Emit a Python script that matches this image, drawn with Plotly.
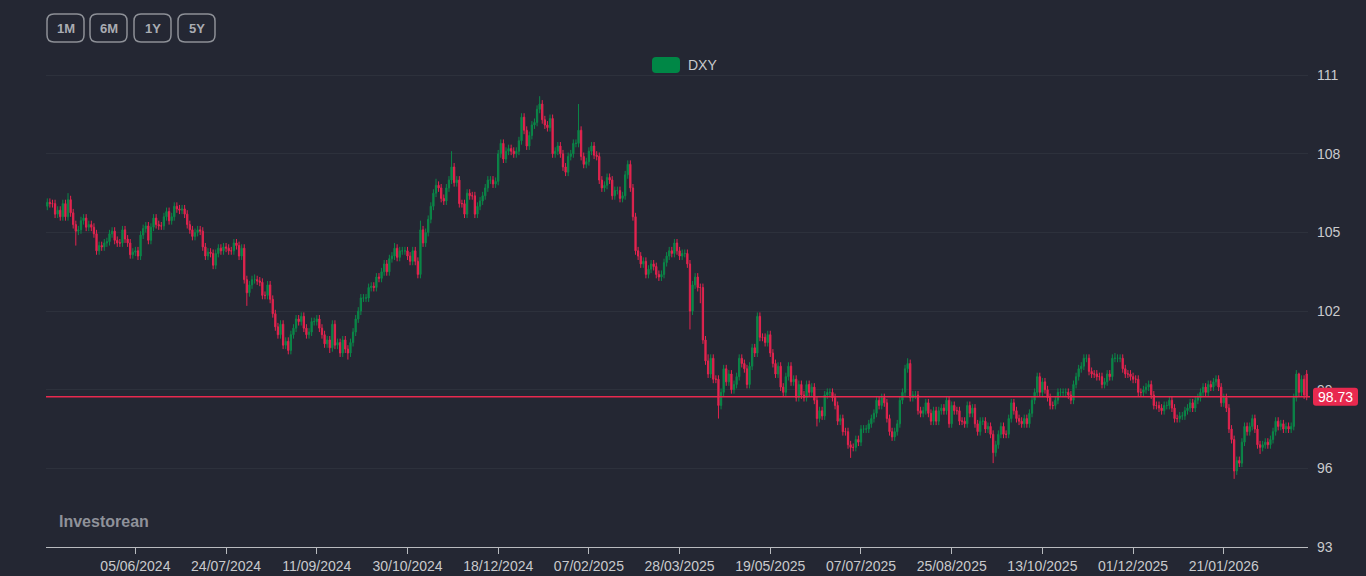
import pandas as pd
import plotly.graph_objects as go

# ---------------- data ----------------
open_ = [
 106.00,106.15,106.10,106.10,105.70,105.85,105.60,106.10,105.60,106.25,
 105.75,105.30,105.05,105.10,105.45,105.55,105.20,105.30,105.20,104.95,
 104.30,104.50,104.45,104.60,104.65,104.95,105.05,104.70,104.60,104.60,
 105.10,104.75,104.60,104.15,104.25,104.30,104.10,104.90,105.15,105.25,
 104.70,105.20,105.55,105.30,105.25,105.25,105.60,105.80,105.45,105.60,
 106.00,105.90,105.85,105.90,105.70,105.30,105.10,104.85,105.00,105.10,
 105.05,104.45,104.10,104.25,104.20,103.75,104.20,104.40,104.30,104.45,
 104.40,104.30,104.30,104.60,104.50,104.10,104.40,103.20,102.70,103.00,
 103.20,103.20,103.15,103.10,102.60,102.60,103.00,102.45,101.90,101.40,
 101.10,101.50,100.70,100.85,100.50,101.10,101.35,101.70,101.60,101.80,
 101.35,101.10,101.20,101.60,101.60,101.70,101.35,101.10,100.75,100.90,
 100.60,101.50,100.70,100.80,100.40,100.90,100.55,100.40,100.80,101.20,
 101.70,102.00,102.50,102.50,102.50,102.90,102.95,102.90,103.30,103.25,
 103.50,103.80,103.50,104.00,104.10,104.40,104.05,104.30,104.30,104.30,
 104.10,103.90,104.30,103.90,103.40,105.10,104.60,105.00,105.50,106.00,
 106.50,106.80,106.70,106.30,106.20,106.70,107.00,107.50,106.90,107.00,
 106.10,106.10,105.70,106.50,106.40,106.40,105.70,106.00,106.20,106.40,
 106.70,107.00,107.00,106.85,106.95,108.00,108.40,107.80,108.10,108.20,
 108.10,108.00,108.10,108.50,109.40,108.90,108.30,108.70,109.10,109.20,
 109.70,109.90,109.30,109.10,109.00,109.35,108.00,108.10,108.30,108.00,
 107.50,107.30,107.90,108.00,108.40,108.40,108.90,107.90,107.60,107.70,
 108.10,108.30,107.95,107.90,107.00,106.70,106.80,107.10,107.00,106.40,
 106.60,106.60,106.30,106.40,107.20,107.60,106.70,105.60,104.30,104.10,
 103.80,103.90,103.40,103.60,103.80,103.70,103.40,103.30,103.40,103.85,
 104.10,104.30,104.20,104.60,104.30,104.10,104.20,104.20,103.80,102.00,
 103.00,103.30,102.90,102.90,100.90,100.10,99.60,100.20,99.40,99.40,
 98.40,98.90,99.80,99.30,99.60,99.00,99.20,99.50,100.20,100.00,
 99.80,99.20,99.90,100.60,100.40,101.80,101.00,101.00,100.80,101.10,
 100.40,100.00,99.60,99.90,99.10,98.90,99.50,99.90,99.30,99.40,
 98.70,99.20,98.80,98.70,99.20,98.90,99.10,98.60,97.90,98.20,
 98.00,98.80,98.90,98.90,98.70,98.40,97.80,97.90,97.40,97.40,
 96.90,96.80,96.80,97.10,97.00,97.50,97.50,97.50,97.70,97.90,
 98.10,98.60,98.40,98.70,98.50,97.90,97.40,97.20,97.40,97.70,
 98.60,98.90,99.80,100.00,98.70,98.80,98.80,98.20,98.10,98.20,
 98.50,98.10,97.80,98.20,97.80,98.20,98.30,98.20,98.60,97.70,
 98.40,98.20,98.20,97.80,97.80,97.70,98.40,98.10,98.30,97.70,
 97.40,97.80,97.80,97.50,97.60,97.30,96.60,96.90,97.30,97.60,
 97.30,97.30,97.90,98.50,98.20,97.90,97.80,97.70,97.90,97.70,
 98.10,98.60,98.90,99.50,98.90,99.30,99.00,98.70,98.40,98.40,
 98.60,98.90,98.90,98.90,98.90,98.80,98.60,99.20,99.50,99.80,
 99.90,100.20,100.20,99.70,99.60,99.60,99.50,99.50,99.20,99.30,
 99.60,99.50,100.20,100.20,100.20,100.20,99.80,99.60,99.60,99.50,
 99.40,99.40,98.90,98.90,99.00,99.10,99.20,98.80,98.40,98.40,
 98.30,98.20,98.40,98.40,98.60,98.30,97.90,97.90,98.00,98.00,
 98.20,98.30,98.50,98.30,98.60,98.70,98.90,99.10,98.90,99.20,
 99.10,99.30,99.40,99.10,98.50,98.70,98.30,97.50,97.10,95.90,
 96.30,96.20,97.00,97.60,97.40,97.60,97.90,97.50,96.90,96.80,
 96.90,97.00,96.90,97.10,97.40,97.80,97.60,97.70,97.50,97.60,
 97.50,97.60,98.70,99.60,98.90,99.40,99.60]

close = [
 106.15,106.10,106.10,105.70,105.85,105.60,106.10,105.60,106.25,105.75,
 105.30,105.05,105.10,105.45,105.55,105.20,105.30,105.20,104.95,104.30,
 104.50,104.45,104.60,104.65,104.95,105.05,104.70,104.60,104.60,105.10,
 104.75,104.60,104.15,104.25,104.30,104.10,104.90,105.15,105.25,104.70,
 105.20,105.55,105.30,105.25,105.25,105.60,105.80,105.45,105.60,106.00,
 105.90,105.85,105.90,105.70,105.30,105.10,104.85,105.00,105.10,105.05,
 104.45,104.10,104.25,104.20,103.75,104.20,104.40,104.30,104.45,104.40,
 104.30,104.30,104.60,104.50,104.10,104.40,103.20,102.70,103.00,103.20,
 103.20,103.15,103.10,102.60,102.60,103.00,102.45,101.90,101.40,101.10,
 101.50,100.70,100.85,100.50,101.10,101.35,101.70,101.60,101.80,101.35,
 101.10,101.20,101.60,101.60,101.70,101.35,101.10,100.75,100.90,100.60,
 101.50,100.70,100.80,100.40,100.90,100.55,100.40,100.80,101.20,101.70,
 102.00,102.50,102.50,102.50,102.90,102.95,102.90,103.30,103.25,103.50,
 103.80,103.50,104.00,104.10,104.40,104.05,104.30,104.30,104.30,104.10,
 103.90,104.30,103.90,103.40,105.10,104.60,105.00,105.50,106.00,106.50,
 106.80,106.70,106.30,106.20,106.70,107.00,107.50,106.90,107.00,106.10,
 106.10,105.70,106.50,106.40,106.40,105.70,106.00,106.20,106.40,106.70,
 107.00,107.00,106.85,106.95,108.00,108.40,107.80,108.10,108.20,108.10,
 108.00,108.10,108.50,109.40,108.90,108.30,108.70,109.10,109.20,109.70,
 109.90,109.30,109.10,109.00,109.35,108.00,108.10,108.30,108.00,107.50,
 107.30,107.90,108.00,108.40,108.40,108.90,107.90,107.60,107.70,108.10,
 108.30,107.95,107.90,107.00,106.70,106.80,107.10,107.00,106.40,106.60,
 106.60,106.30,106.40,107.20,107.60,106.70,105.60,104.30,104.10,103.80,
 103.90,103.40,103.60,103.80,103.70,103.40,103.30,103.40,103.85,104.10,
 104.30,104.20,104.60,104.30,104.10,104.20,104.20,103.80,102.00,103.00,
 103.30,102.90,102.90,100.90,100.10,99.60,100.20,99.40,99.40,98.40,
 98.90,99.80,99.30,99.60,99.00,99.20,99.50,100.20,100.00,99.80,
 99.20,99.90,100.60,100.40,101.80,101.00,101.00,100.80,101.10,100.40,
 100.00,99.60,99.90,99.10,98.90,99.50,99.90,99.30,99.40,98.70,
 99.20,98.80,98.70,99.20,98.90,99.10,98.60,97.90,98.20,98.00,
 98.80,98.90,98.90,98.70,98.40,97.80,97.90,97.40,97.40,96.90,
 96.80,96.80,97.10,97.00,97.50,97.50,97.50,97.70,97.90,98.10,
 98.60,98.40,98.70,98.50,97.90,97.40,97.20,97.40,97.70,98.60,
 98.90,99.80,100.00,98.70,98.80,98.80,98.20,98.10,98.20,98.50,
 98.10,97.80,98.20,97.80,98.20,98.30,98.20,98.60,97.70,98.40,
 98.20,98.20,97.80,97.80,97.70,98.40,98.10,98.30,97.70,97.40,
 97.80,97.80,97.50,97.60,97.30,96.60,96.90,97.30,97.60,97.30,
 97.30,97.90,98.50,98.20,97.90,97.80,97.70,97.90,97.70,98.10,
 98.60,98.90,99.50,98.90,99.30,99.00,98.70,98.40,98.40,98.60,
 98.90,98.90,98.90,98.90,98.80,98.60,99.20,99.50,99.80,99.90,
 100.20,100.20,99.70,99.60,99.60,99.50,99.50,99.20,99.30,99.60,
 99.50,100.20,100.20,100.20,100.20,99.80,99.60,99.60,99.50,99.40,
 99.40,98.90,98.90,99.00,99.10,99.20,98.80,98.40,98.40,98.30,
 98.20,98.40,98.40,98.60,98.30,97.90,97.90,98.00,98.00,98.20,
 98.30,98.50,98.30,98.60,98.70,98.90,99.10,98.90,99.20,99.10,
 99.30,99.40,99.10,98.50,98.70,98.30,97.50,97.10,95.90,96.30,
 96.20,97.00,97.60,97.40,97.60,97.90,97.50,96.90,96.80,96.90,
 97.00,96.90,97.10,97.40,97.80,97.60,97.70,97.50,97.60,97.50,
 97.60,98.70,99.60,98.90,99.40,98.80,98.73]

high = [
 106.30,106.30,106.25,106.25,106.00,106.00,106.25,106.25,106.50,106.40,
 105.90,105.45,105.25,105.60,105.70,105.70,105.45,105.45,105.35,105.10,
 104.65,104.65,104.75,104.80,105.10,105.20,105.20,104.85,104.75,105.25,
 105.25,104.90,104.75,104.40,104.45,104.45,105.05,105.30,105.40,105.40,
 105.35,105.70,105.70,105.45,105.40,105.75,105.95,105.95,105.75,106.15,
 106.15,106.05,106.05,106.05,105.85,105.45,105.25,105.15,105.25,105.25,
 105.20,104.60,104.40,104.40,104.35,104.35,104.55,104.55,104.60,104.60,
 104.55,104.45,104.75,104.75,104.65,104.55,104.55,103.35,103.15,103.35,
 103.40,103.35,103.30,103.25,102.75,103.15,103.15,102.60,102.05,101.55,
 101.65,101.65,101.00,101.00,101.25,101.50,101.85,101.85,101.95,101.95,
 101.50,101.35,101.75,101.75,101.85,101.85,101.50,101.25,101.05,101.05,
 101.65,101.65,100.95,100.95,101.05,101.05,100.70,100.95,101.35,101.85,
 102.15,102.65,102.65,102.65,103.05,103.10,103.10,103.45,103.45,103.65,
 103.95,103.95,104.15,104.25,104.60,104.55,104.45,104.45,104.45,104.45,
 104.25,104.45,104.45,104.05,105.45,105.25,105.15,105.65,106.15,106.65,
 107.05,106.95,106.85,106.45,106.85,107.15,108.10,107.65,107.15,107.15,
 106.25,106.25,106.65,106.65,106.55,106.55,106.15,106.35,106.55,106.85,
 107.15,107.15,107.15,107.10,108.15,108.55,108.55,108.25,108.35,108.35,
 108.25,108.25,108.65,109.55,109.55,109.05,108.85,109.25,109.35,109.85,
 110.20,110.05,109.45,109.25,109.50,109.50,108.25,108.45,108.45,108.15,
 107.65,108.05,108.15,108.55,108.55,109.90,109.05,108.05,107.85,108.25,
 108.45,108.45,108.10,108.05,107.15,106.95,107.25,107.25,107.15,106.75,
 106.75,106.75,106.55,107.35,107.75,107.75,106.85,105.75,104.45,104.25,
 104.05,104.05,103.75,103.95,103.95,103.85,103.55,103.55,104.00,104.25,
 104.45,104.45,104.75,104.75,104.45,104.35,104.35,104.35,103.95,103.15,
 103.45,103.45,103.05,103.05,101.05,100.35,100.35,100.35,99.55,99.55,
 99.05,99.95,99.95,99.75,99.75,99.35,99.65,100.35,100.35,100.15,
 99.95,100.05,100.75,100.75,101.95,101.95,101.15,101.15,101.25,101.25,
 100.55,100.15,100.05,100.05,99.25,99.65,100.05,100.05,99.55,99.55,
 99.35,99.35,98.95,99.35,99.35,99.25,99.25,98.75,98.35,98.35,
 98.95,99.05,99.05,99.05,98.85,98.55,98.05,98.05,97.55,97.55,
 97.05,96.95,97.25,97.25,97.65,97.65,97.65,97.85,98.05,98.25,
 98.75,98.75,98.85,98.85,98.65,98.05,97.55,97.55,97.85,98.75,
 99.05,99.95,100.20,100.15,98.95,98.95,98.95,98.35,98.35,98.65,
 98.65,98.25,98.35,98.35,98.35,98.45,98.45,98.75,98.75,98.55,
 98.55,98.35,98.35,97.95,97.95,98.55,98.55,98.45,98.45,97.85,
 97.95,97.95,97.95,97.75,97.75,97.45,97.05,97.45,97.75,97.75,
 97.45,98.05,98.65,98.65,98.35,98.05,97.95,98.05,98.05,98.25,
 98.75,99.05,99.65,99.65,99.45,99.45,99.15,98.85,98.55,98.75,
 99.05,99.05,99.05,99.05,99.05,98.95,99.35,99.65,99.95,100.05,
 100.35,100.35,100.35,99.85,99.75,99.75,99.65,99.65,99.45,99.75,
 99.75,100.35,100.40,100.35,100.35,100.35,99.95,99.75,99.75,99.65,
 99.55,99.55,99.05,99.15,99.25,99.35,99.35,98.95,98.55,98.55,
 98.45,98.55,98.55,98.75,98.75,98.45,98.05,98.15,98.15,98.35,
 98.45,98.65,98.65,98.75,98.85,99.05,99.25,99.25,99.35,99.35,
 99.45,99.55,99.55,99.25,98.85,98.85,98.45,97.65,97.25,96.45,
 96.45,97.15,97.75,97.75,97.75,98.05,98.05,97.65,97.05,97.05,
 97.15,97.15,97.25,97.55,97.95,97.95,97.85,97.85,97.75,97.75,
 97.75,98.85,99.75,99.65,99.55,99.55,99.75]

low = [
 105.85,105.95,105.95,105.55,105.55,105.45,105.45,105.45,105.45,105.60,
 105.15,104.50,104.90,104.95,105.30,105.05,105.05,105.05,104.80,104.15,
 104.15,104.30,104.30,104.45,104.50,104.80,104.55,104.45,104.45,104.45,
 104.60,104.45,104.00,104.00,104.10,103.95,103.95,104.75,105.00,104.55,
 104.55,105.05,105.15,105.10,105.10,105.10,105.45,105.30,105.30,105.45,
 105.75,105.70,105.70,105.55,105.15,104.95,104.70,104.70,104.85,104.90,
 104.30,103.95,103.95,104.05,103.60,103.60,104.05,104.15,104.15,104.25,
 104.15,104.15,104.15,104.35,103.95,103.95,103.05,102.20,102.55,102.85,
 103.05,103.00,102.95,102.45,102.45,102.45,102.30,101.75,101.25,100.95,
 100.95,100.55,100.55,100.35,100.35,100.95,101.20,101.45,101.45,101.20,
 100.95,100.95,101.05,101.45,101.45,101.20,100.95,100.60,100.60,100.40,
 100.45,100.55,100.55,100.25,100.25,100.40,100.15,100.25,100.65,101.05,
 101.55,101.85,102.35,102.35,102.35,102.75,102.75,102.75,103.10,103.10,
 103.35,103.35,103.35,103.85,103.95,103.90,103.90,104.15,104.15,103.95,
 103.75,103.75,103.75,103.25,103.25,104.45,104.45,104.85,105.35,105.85,
 106.35,106.55,106.15,106.05,106.05,106.55,106.85,106.75,106.75,105.95,
 105.95,105.55,105.55,106.25,106.25,105.55,105.55,105.85,106.05,106.25,
 106.55,106.85,106.70,106.70,106.80,107.85,107.65,107.65,107.95,107.95,
 107.85,107.85,107.95,108.35,108.75,108.15,108.15,108.55,108.95,109.05,
 109.55,109.15,108.95,108.85,108.85,107.85,107.85,107.95,107.85,107.35,
 107.15,107.15,107.75,107.85,108.25,108.25,107.75,107.45,107.45,107.55,
 107.95,107.80,107.75,106.85,106.55,106.55,106.65,106.85,106.25,106.25,
 106.45,106.15,106.15,106.25,107.05,106.55,105.45,104.15,103.95,103.65,
 103.65,103.25,103.25,103.45,103.55,103.25,103.15,103.15,103.25,103.70,
 103.95,104.05,104.05,104.15,103.95,103.95,104.05,103.65,101.30,101.85,
 102.85,102.75,102.30,100.75,99.95,99.45,99.45,99.25,99.25,97.90,
 98.25,98.75,99.15,99.15,98.85,98.85,99.05,99.35,99.85,99.65,
 99.05,99.05,99.75,100.25,100.25,100.85,100.85,100.65,100.65,100.25,
 99.85,99.45,99.45,98.95,98.75,98.75,99.35,99.15,99.15,98.55,
 98.55,98.65,98.55,98.55,98.75,98.75,98.45,97.60,97.75,97.85,
 97.85,98.65,98.75,98.55,98.25,97.65,97.65,97.25,97.25,96.75,
 96.40,96.65,96.65,96.85,96.85,97.35,97.35,97.35,97.55,97.75,
 97.95,98.25,98.25,98.35,97.75,97.25,97.05,97.05,97.25,97.55,
 98.45,98.75,99.65,98.55,98.55,98.65,98.05,97.95,97.95,98.05,
 97.95,97.65,97.65,97.65,97.65,98.05,98.05,98.05,97.55,97.55,
 98.05,98.05,97.65,97.65,97.55,97.55,97.95,97.95,97.55,97.25,
 97.25,97.65,97.35,97.35,97.15,96.20,96.45,96.75,97.15,97.15,
 97.15,97.15,97.75,98.05,97.75,97.65,97.55,97.55,97.55,97.55,
 97.95,98.45,98.75,98.75,98.75,98.85,98.55,98.25,98.25,98.25,
 98.45,98.75,98.75,98.75,98.65,98.45,98.45,99.05,99.35,99.65,
 99.75,100.05,99.55,99.45,99.45,99.35,99.35,99.05,99.05,99.15,
 99.35,99.35,100.05,100.05,100.05,99.65,99.45,99.45,99.35,99.25,
 99.25,98.75,98.75,98.75,98.85,98.95,98.65,98.25,98.25,98.15,
 98.05,98.05,98.25,98.25,98.15,97.75,97.75,97.75,97.85,97.85,
 98.05,98.15,98.15,98.15,98.45,98.55,98.75,98.75,98.75,98.95,
 98.95,99.15,98.95,98.35,98.35,98.15,97.35,96.95,95.60,95.75,
 96.05,96.05,96.85,97.25,97.25,97.45,97.35,96.75,96.55,96.65,
 96.75,96.75,96.75,96.95,97.25,97.45,97.45,97.35,97.35,97.35,
 97.35,97.45,98.55,98.75,98.75,98.65,98.60]

start_date = "2024-04-18"
market_holidays = ["2024-12-25", "2025-01-01", "2025-04-18", "2025-12-25", "2026-01-01"]
tick_labels = ["05/06/2024", "24/07/2024", "11/09/2024", "30/10/2024", "18/12/2024",
               "07/02/2025", "28/03/2025", "19/05/2025", "07/07/2025", "25/08/2025",
               "13/10/2025", "01/12/2025", "21/01/2026"]
y_ticks = [93, 96, 99, 102, 105, 108, 111]
series_name = "DXY"

assert len(open_) == len(close) == len(high) == len(low), (len(open_), len(close), len(high), len(low))

days = [d for d in pd.bdate_range(start_date, periods=len(close) + 20)
        if d.strftime("%Y-%m-%d") not in market_holidays][:len(close)]
dates = [d.strftime("%d/%m/%Y") for d in days]
tickvals = [t for t in tick_labels if t in dates]

# ---------------- styling ----------------
BG = "#242733"
GRID = "#2d313c"
TXT = "#c9cacd"
UP = "#0b8748"
DOWN = "#e3244f"
PRICE_RED = "#e8294f"
FONT = "Liberation Sans, Arial, sans-serif"

W, H = 1366, 576
ML, MR, MT, MB = 46, 58, 49, 29
PW, PH = W - ML - MR, H - MT - MB

def px(x):
    return (x - ML) / PW

def py(y):
    return (H - MB - y) / PH

def rrect(x0, y0, x1, y1, r):
    X0, X1 = px(x0), px(x1)
    Yb, Yt = py(y1), py(y0)
    rx, ry = r / PW, r / PH
    return (f"M{X0+rx},{Yb} L{X1-rx},{Yb} Q{X1},{Yb} {X1},{Yb+ry} "
            f"L{X1},{Yt-ry} Q{X1},{Yt} {X1-rx},{Yt} L{X0+rx},{Yt} "
            f"Q{X0},{Yt} {X0},{Yt-ry} L{X0},{Yb+ry} Q{X0},{Yb} {X0+rx},{Yb} Z")

fig = go.Figure()
fig.add_trace(go.Candlestick(
    x=dates, open=open_, high=high, low=low, close=close, name=series_name,
    increasing=dict(line=dict(color=UP, width=1), fillcolor=UP),
    decreasing=dict(line=dict(color=DOWN, width=1), fillcolor=DOWN),
    whiskerwidth=0, showlegend=False,
))

shapes = []
annotations = []

# last-price line and label
last = close[-1]
shapes.append(dict(type="line", xref="paper", yref="y", x0=0, x1=px(1310), y0=last, y1=last,
                   line=dict(color=PRICE_RED, width=1.5), layer="above"))
bx0, bx1 = px(1313), px(1358)
rxp = 3 / PW
shapes.append(dict(
    type="path", xref="paper", yref="y", ysizemode="pixel", yanchor=last,
    path=(f"M{bx0+rxp},-9 L{bx1-rxp},-9 Q{bx1},-9 {bx1},-6 L{bx1},6 Q{bx1},9 {bx1-rxp},9 "
          f"L{bx0+rxp},9 Q{bx0},9 {bx0},6 L{bx0},-6 Q{bx0},-9 {bx0+rxp},-9 Z"),
    fillcolor=PRICE_RED, line=dict(width=0), layer="above"))
annotations.append(dict(xref="paper", yref="y", x=px(1335.5), y=last, text=f"{last:.2f}",
                        showarrow=False, xanchor="center", yanchor="middle",
                        font=dict(family=FONT, size=14, color="#ffffff")))

# range buttons
for label, (x0, x1) in zip(["1M", "6M", "1Y", "5Y"], [(47, 84), (90, 127), (134, 171), (178, 215)]):
    shapes.append(dict(type="path", xref="paper", yref="paper", path=rrect(x0, 14, x1, 42, 7),
                       line=dict(color="#8d9097", width=1.5), fillcolor="rgba(0,0,0,0)", layer="above"))
    annotations.append(dict(xref="paper", yref="paper", x=px((x0 + x1) / 2), y=py(28.5),
                            text=f"<b>{label}</b>", showarrow=False, xanchor="center", yanchor="middle",
                            font=dict(family=FONT, size=13, color="#a9acb2")))

# legend
shapes.append(dict(type="path", xref="paper", yref="paper", path=rrect(652, 57, 680, 73, 4),
                   fillcolor="#008746", line=dict(width=0), layer="above"))
annotations.append(dict(xref="paper", yref="paper", x=px(686), y=py(65.5), text=series_name,
                        showarrow=False, xanchor="left", yanchor="middle",
                        font=dict(family=FONT, size=14, color=TXT)))

# watermark
annotations.append(dict(xref="paper", yref="paper", x=px(57), y=py(521.5), text="<b>Investorean</b>",
                        showarrow=False, xanchor="left", yanchor="middle",
                        font=dict(family=FONT, size=16, color="#8f929a")))

fig.update_layout(
    template="none",
    width=W, height=H,
    margin=dict(l=ML, r=MR, t=MT, b=MB, pad=0, autoexpand=False),
    paper_bgcolor=BG, plot_bgcolor=BG,
    font=dict(family=FONT, size=14, color=TXT),
    showlegend=False,
    shapes=shapes, annotations=annotations,
    xaxis=dict(
        type="category", range=[-0.5, len(dates) - 0.5], automargin=False,
        tickmode="array", tickvals=tickvals, ticktext=tickvals,
        showgrid=False, zeroline=False,
        showline=True, linecolor="#b9bbbf", linewidth=1,
        ticks="outside", ticklen=6, tickcolor="#b9bbbf", tickwidth=1,
        tickfont=dict(family=FONT, size=14, color=TXT),
        rangeslider=dict(visible=False), fixedrange=True,
    ),
    yaxis=dict(
        side="right", range=[93, 112], automargin=False,
        tickmode="array", tickvals=y_ticks,
        showgrid=True, gridcolor=GRID, gridwidth=1, zeroline=False,
        showline=False, ticks="", ticklabelstandoff=8,
        tickfont=dict(family=FONT, size=14, color=TXT), fixedrange=True,
    ),
)

fig.write_html("out.html", config={"displayModeBar": False},
               post_script="document.body.style.margin='0';document.body.style.overflow='hidden';")
